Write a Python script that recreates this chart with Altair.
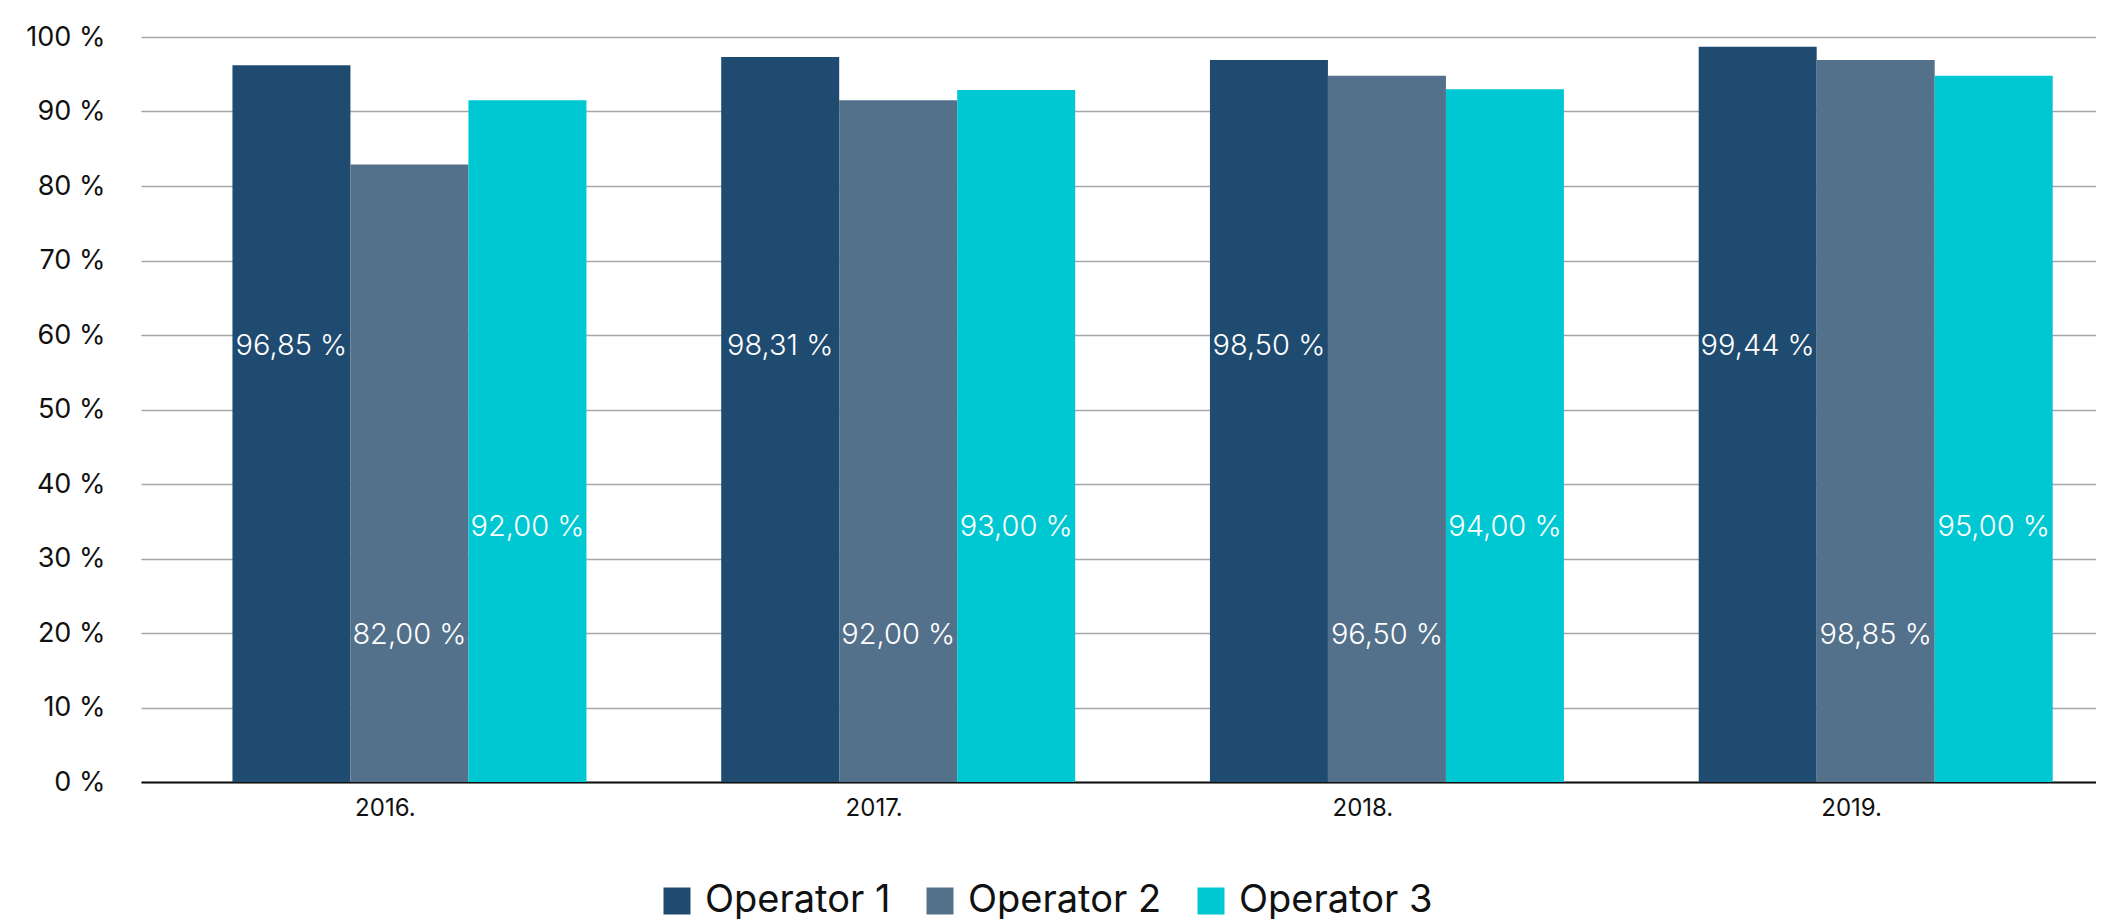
import altair as alt
import pandas as pd

years = ["2016.", "2017.", "2018.", "2019."]
operators = ["Operator 1", "Operator 2", "Operator 3"]

op1_values = [96.2, 97.3, 96.9, 98.7]
op2_values = [82.9, 91.5, 94.8, 96.9]
op3_values = [91.5, 92.9, 93.0, 94.8]

op1_labels = ["96,85 %", "98,31 %", "98,50 %", "99,44 %"]
op2_labels = ["82,00 %", "92,00 %", "96,50 %", "98,85 %"]
op3_labels = ["92,00 %", "93,00 %", "94,00 %", "95,00 %"]

colors = ["#204B71", "#54718B", "#00C8D3"]
y_ticks = [0, 10, 20, 30, 40, 50, 60, 70, 80, 90, 100]

rows = []
for op, vals, labs in zip(operators, [op1_values, op2_values, op3_values],
                          [op1_labels, op2_labels, op3_labels]):
    for yr, v, lab in zip(years, vals, labs):
        rows.append({"year": yr, "operator": op, "value": v, "label": lab})
df = pd.DataFrame(rows)

FONT = "Inter"
SHIFT = 24
GROUP_W = 354

base = alt.Chart(df).encode(
    x=alt.X(
        "year:N",
        sort=years,
        title=None,
        scale=alt.Scale(paddingInner=0.276, paddingOuter=0.138),
        axis=alt.Axis(
            labelAngle=0, labelFontSize=24, labelColor="#111111", labelFont=FONT,
            labelPadding=14, ticks=False, domain=True, domainColor="#111111",
            domainWidth=2, grid=False,
        ),
    ),
    xOffset=alt.XOffset("operator:N", sort=operators,
                        scale=alt.Scale(range=[SHIFT, SHIFT + GROUP_W],
                                        paddingInner=0, paddingOuter=0)),
)

bars = base.mark_bar().encode(
    y=alt.Y(
        "value:Q",
        title=None,
        scale=alt.Scale(domain=[0, 100], nice=False),
        axis=alt.Axis(
            values=y_ticks, labelExpr="datum.value + ' %'", labelFontSize=27,
            labelColor="#111111", labelFont=FONT, labelPadding=36, ticks=False,
            domain=False, grid=True, gridColor="#A6A6A6", gridWidth=1.3,
            minExtent=133, maxExtent=133,
        ),
    ),
    color=alt.Color(
        "operator:N",
        sort=operators,
        scale=alt.Scale(domain=operators, range=colors),
        legend=alt.Legend(
            title=None, orient="none", direction="horizontal",
            legendX=517, legendY=845, symbolType="square", symbolSize=729,
            symbolStrokeWidth=0, symbolOpacity=1, labelFontSize=38,
            labelFont=FONT, labelColor="#111111", labelOffset=9,
            labelLimit=0, columnPadding=30, padding=0, gridAlign="none",
        ),
    ),
)

label_y = {"Operator 1": 309, "Operator 2": 598, "Operator 3": 490}
texts = []
for op in operators:
    texts.append(
        base.transform_filter(alt.datum.operator == op)
        .mark_text(color="white", fontSize=29, font=FONT, fontWeight=300,
                   align="center", baseline="middle")
        .encode(text="label:N", y=alt.value(label_y[op]))
    )

chart = alt.layer(bars, *texts).properties(
    width=1955, height=745,
    padding={"left": 0, "top": 15, "right": 0, "bottom": 0},
).configure_view(stroke=None)

chart.save("out.html", embed_options={"renderer": "svg", "actions": False})
